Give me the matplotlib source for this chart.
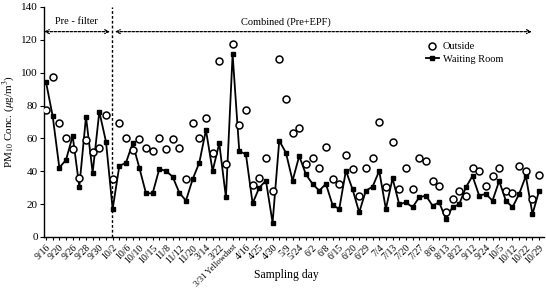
import numpy as np
import matplotlib
matplotlib.use('Agg')
import matplotlib.pyplot as plt

plt.rcParams['font.family'] = ['Liberation Serif', 'DejaVu Serif']
plt.rcParams['mathtext.fontset'] = 'stix'

# 採取日ラベル (2点ごと)
tick_labels = ['9/16', '9/20', '9/26', '9/28', '9/30', '10/2', '10/6', '10/10', '10/15',
               '11/8', '11/12', '11/20', '3/14', '3/22', '3/31 Yellowdust', '4/16', '4/25',
               '4/30', '5/9', '5/24', '6/2', '6/8', '6/15', '6/20', '6/29', '7/4', '7/13',
               '7/20', '7/27', '8/6', '8/13', '8/22', '9/12', '9/24', '10/5', '10/12',
               '10/22', '10/29']

# 屋外 PM10
outside = [77.3, 97.2, 69.2, 60.0, 53.4, 36.1, 59.0, 51.9, 54.0, 74.3,
           35.3, 69.2, 60.0, 53.0, 59.4, 54.4, 52.3, 60.0, 53.4, 59.4,
           54.4, 35.1, 69.2, 60.0, 72.2, 51.3, 107.3, 44.2, 117.3, 68.0,
           77.3, 31.6, 35.7, 48.3, 28.0, 108.3, 84.2, 63.1, 66.1, 44.2,
           47.9, 42.2, 55.0, 35.1, 32.1, 49.9, 41.2, 25.2, 42.2, 47.9,
           70.2, 30.2, 58.0, 29.0, 42.0, 29.0, 48.1, 46.0, 34.1, 31.0,
           15.0, 23.1, 28.0, 25.0, 42.0, 40.0, 31.0, 37.1, 42.0, 28.0,
           27.0, 43.0, 40.0, 23.1, 37.9]

# 待合室 PM10
waiting = [94.3, 73.6, 42.2, 46.9, 61.5, 30.6, 73.2, 39.1, 76.3, 58.0,
           17.0, 43.2, 45.2, 57.0, 42.2, 26.6, 26.6, 41.4, 40.2, 36.7,
           27.0, 22.1, 35.1, 45.2, 65.1, 40.2, 57.0, 24.1, 111.2, 52.3,
           50.3, 20.5, 30.0, 34.3, 8.7, 58.6, 51.3, 34.3, 49.3, 38.1,
           32.3, 28.2, 32.3, 19.5, 17.0, 40.4, 29.0, 15.0, 28.2, 30.6,
           40.2, 17.0, 35.7, 19.9, 21.1, 18.1, 24.1, 25.2, 19.1, 21.1,
           11.0, 18.1, 19.9, 30.2, 37.1, 25.2, 26.2, 22.1, 34.1, 22.1,
           18.1, 26.2, 37.1, 14.0, 28.2]

x = np.arange(len(waiting))
split = 10  # 10/2: Pre-filter -> Combined

fig = plt.figure(figsize=(5.46, 2.89), dpi=100)
ax = fig.add_axes([0.0806, 0.180, 0.9154, 0.7958])

ax.plot(x, outside, 'o', mfc='white', mec='black', mew=1.1, ms=5, label='Outside', zorder=3)
ax.plot(x, waiting, '-s', color='black', lw=1.3, ms=3, label='Waiting Room', zorder=2)

ax.axvline(split - 0.1, color='black', ls=(0, (2, 1.5)), lw=1.0)

arrow = dict(arrowstyle='<->', ls=(0, (2, 1.2)), lw=0.9, color='black',
             shrinkA=0, shrinkB=0, mutation_scale=7)
ax.annotate('', xy=(-0.3, 125), xytext=(9.6, 125), arrowprops=arrow)
ax.annotate('', xy=(10.35, 125), xytext=(72.9, 125), arrowprops=arrow)
ax.text(4.6, 131, 'Pre - filter', ha='center', va='center', fontsize=7.5)
ax.text(36, 131, 'Combined (Pre+EPF)', ha='center', va='center', fontsize=7.5)

ax.set_xlim(-0.3, 74.7)
ax.set_ylim(0, 140)
ax.set_yticks(np.arange(0, 141, 20))
ax.set_xticks(x)
labels = [''] * len(x)
labels[::2] = tick_labels
ax.set_xticklabels(labels, rotation=45, ha='right', rotation_mode='anchor', fontsize=7)
# 長いラベルだけ少し小さく
for t in ax.get_xticklabels():
    if 'Yellowdust' in t.get_text():
        t.set_fontsize(6.2)
ax.tick_params(axis='x', length=2.5, width=0.8, pad=2)
ax.tick_params(axis='y', length=3, width=0.8, labelsize=8, pad=1.5)

for s in ['top', 'right']:
    ax.spines[s].set_visible(False)
for s in ['left', 'bottom']:
    ax.spines[s].set_linewidth(1.0)

fig.text(0.524, 0.048, 'Sampling day', ha='center', va='center', fontsize=8.5)
ax.set_ylabel(r'PM$_{10}$ Conc. ($\mu$g/m$^3$)', fontsize=8, labelpad=3)

ax.legend(loc='upper left', bbox_to_anchor=(0.75, 0.88), frameon=False, fontsize=7.5,
          handlelength=1.2, handletextpad=0.4, labelspacing=0.3, borderpad=0.2)

fig.savefig('out.png', dpi=100)
